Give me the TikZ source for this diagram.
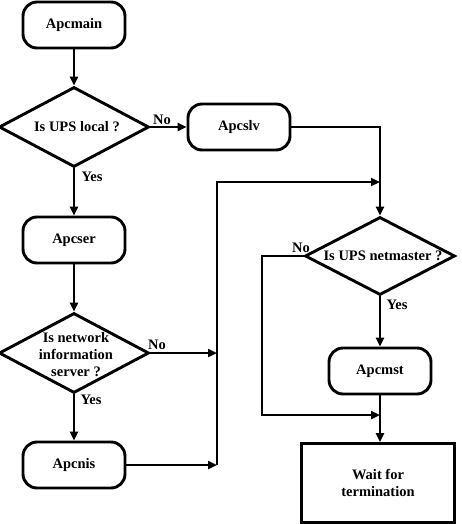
\documentclass[tikz,border=0pt]{standalone}
\usepackage{fontspec}
\setmainfont{Liberation Serif}
\usetikzlibrary{arrows.meta,shapes.geometric}
\begin{document}
\begin{tikzpicture}[x=1pt,y=-1pt,line width=2.9pt,
  txt/.style={font=\bfseries\fontsize{14.5}{17}\selectfont},
  proc/.style={draw,txt,rounded corners=14pt,minimum width=102pt,minimum height=46pt,inner sep=0pt},
  waitbox/.style={draw,txt,minimum width=153pt,minimum height=79pt,align=center,inner sep=0pt},
  dec/.style={draw,diamond,minimum width=150pt,minimum height=80pt,inner sep=0pt},
  dtext/.style={txt,align=center,inner sep=0pt},
  lab/.style={txt,inner sep=0pt},
  arr/.style={-{Triangle[length=9pt,width=8pt]}}]
\useasboundingbox (0,0) rectangle (462,524);
% nodes
\node[proc] (main) at (74,25) {Apcmain};
\node[dec] (d1) at (74,127) {};
\node[dtext] (d1t) at (77,127) {Is UPS local ?};
\node[proc] (slv) at (239,127) {Apcslv};
\node[proc] (ser) at (74,240) {Apcser};
\node[dec] (d3) at (74,353) {};
\node[dtext] (d3t) at (76,355) {Is network\\information\\server ?};
\node[proc] (nis) at (74,465) {Apcnis};
\node[dec,minimum height=78pt] (d2) at (380,256) {};
\node[dtext] (d2t) at (383,256) {Is UPS netmaster ?};
\node[proc] (mst) at (380,371) {Apcmst};
\node[waitbox] (wait) at (378,483) {Wait for\\termination};
% coordinates
\coordinate (j1) at (217,353);
\coordinate (j2) at (217,465);
\coordinate (jtop) at (217,182);
\coordinate (m1) at (380,182);
\coordinate (nol) at (262,256);
\coordinate (m2) at (380,415);
% connectors
\draw[arr] (main) -- (d1);
\draw[arr] (d1.east) -- (slv.west);
\draw[arr] (d1.south) -- (ser.north);
\draw[arr] (ser.south) -- (d3.north);
\draw[arr] (d3.east) -- (j1);
\draw[arr] (d3.south) -- (nis.north);
\draw[arr] (nis.east) -- (j2);
\draw[arr] (j2) -- (jtop) -- (m1);
\draw[arr] (slv.east) -| (d2.north);
\draw[arr] (d2.west) -- (nol) |- (m2);
\draw[arr] (d2.south) -- (mst.north);
\draw[arr] (mst.south) -- (mst.south |- wait.north);
% labels
\node[lab] (l1) at (162,120) {No};
\node[lab] (l2) at (92,177) {Yes};
\node[lab] (l3) at (157,345) {No};
\node[lab] (l4) at (91,400) {Yes};
\node[lab] (l5) at (301,248) {No};
\node[lab] (l6) at (397,305) {Yes};
\end{tikzpicture}
\end{document}
